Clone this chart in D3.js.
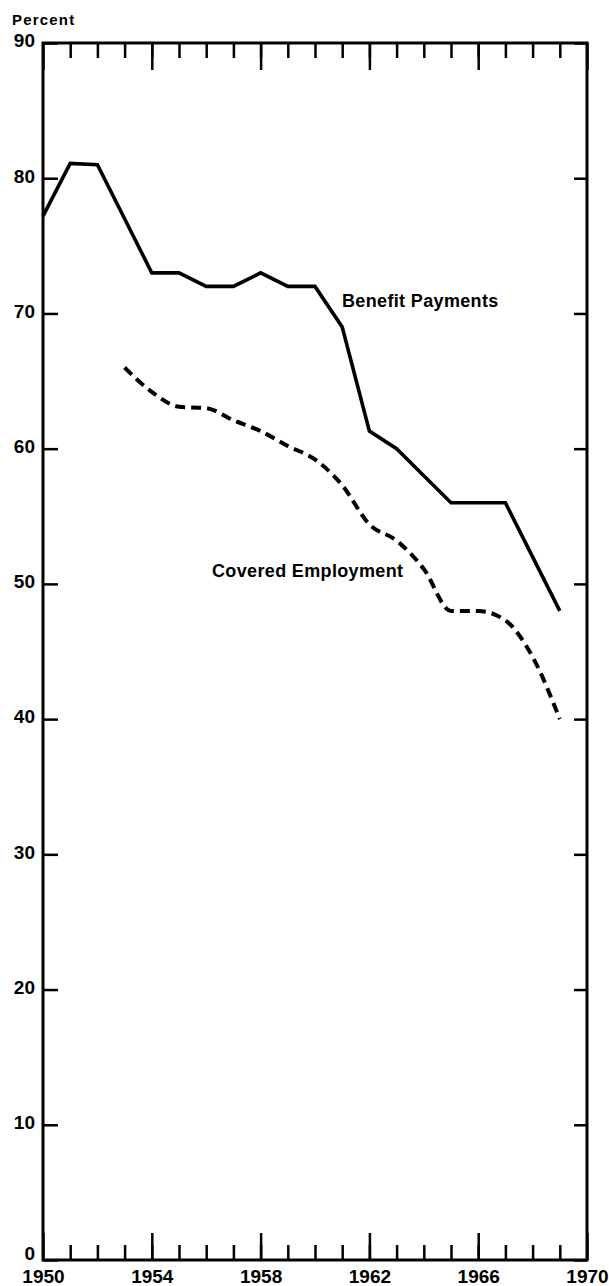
<!DOCTYPE html>
<style>
  body { margin: 0; background: #fff; }
  svg { display: block; font-family: "Liberation Sans", Arial, sans-serif; font-weight: bold; }
  .axis text { font-size: 19px; font-weight: bold; fill: #000; }
  .axis line { stroke: #000; stroke-width: 2.5; }
  .axis path { display: none; }
  .frame { fill: none; stroke: #000; stroke-width: 3; }
  .benefit { fill: none; stroke: #000; stroke-width: 3.6; stroke-linejoin: miter; }
  .covered { fill: none; stroke: #000; stroke-width: 4; stroke-dasharray: 10 6; }
  .label { font-size: 18px; letter-spacing: 0.35px; fill: #000; }
</style>
<body>
</body>
<script src="https://cdn.jsdelivr.net/npm/d3@7"></script>
<script>
  const w = 609, h = 1286;
  const margin = {l: 43, r: 22, t: 43, b: 26};
  const iw = w - margin.l - margin.r, ih = h - margin.t - margin.b;

  // Benefit Payments, 1950-1969
  const benefitYears = [1950, 1951, 1952, 1953, 1954, 1955, 1956, 1957, 1958, 1959,
                        1960, 1961, 1962, 1963, 1964, 1965, 1966, 1967, 1968, 1969];
  const benefitPayments = [77.2, 81.1, 81, 77, 73, 73, 72, 72, 73, 72,
                           72, 69, 61.3, 60, 58, 56, 56, 56, 52, 48];

  // Covered Employment, 1953-1969
  const coveredYears = [1953, 1954, 1955, 1956, 1957, 1958, 1959, 1960, 1961,
                        1962, 1963, 1964, 1965, 1966, 1967, 1968, 1969];
  const coveredEmployment = [66, 64.2, 63.1, 63, 62.1, 61.3, 60.2, 59.2, 57.3,
                             54.4, 53.2, 51.1, 48, 48, 47.3, 44.6, 40];

  const majorYears = [1950, 1954, 1958, 1962, 1966, 1970];
  const minorYears = d3.range(1951, 1970);
  const yTicks = [0, 10, 20, 30, 40, 50, 60, 70, 80, 90];

  const svg = d3.select('body').append('svg')
    .attr('width', w).attr('height', h);
  const g = svg.append('g')
    .attr('transform', `translate(${margin.l}, ${margin.t})`);

  const x = d3.scaleLinear().domain([1950, 1970]).range([0, iw]);
  const y = d3.scaleLinear().domain([0, 90]).range([ih, 0]);

  // bottom axis: minor ticks, then major ticks with labels
  g.append('g').attr('class', 'axis')
    .attr('transform', `translate(0, ${ih})`)
    .call(d3.axisBottom(x).tickValues(minorYears).tickSize(-15).tickFormat(''));
  g.append('g').attr('class', 'axis')
    .attr('transform', `translate(0, ${ih})`)
    .call(d3.axisBottom(x).tickValues(majorYears).tickSize(-27).tickPadding(10).tickFormat(d3.format('d')));

  // top axis
  g.append('g').attr('class', 'axis')
    .call(d3.axisTop(x).tickValues(minorYears).tickSize(-15).tickFormat(''));
  g.append('g').attr('class', 'axis')
    .call(d3.axisTop(x).tickValues(majorYears).tickSize(-27).tickFormat(''));

  // left axis ("0" sits a little above the baseline, clear of 1950)
  g.append('g').attr('class', 'axis')
    .call(d3.axisLeft(y).tickValues(yTicks).tickSize(-15).tickPadding(8))
    .selectAll('text').attr('dy', d => d === 0 ? '-0.05em' : '0.2em');

  // right axis
  g.append('g').attr('class', 'axis')
    .attr('transform', `translate(${iw}, 0)`)
    .call(d3.axisRight(y).tickValues(yTicks).tickSize(-13).tickFormat(''));

  g.append('rect').attr('class', 'frame')
    .attr('x', 0).attr('y', 0).attr('width', iw).attr('height', ih);

  svg.append('text').attr('class', 'label')
    .attr('x', 12).attr('y', 25)
    .style('font-size', '15px').style('letter-spacing', '1.2px')
    .text('Percent');

  const solid = d3.line()
    .x((d, i) => x(benefitYears[i]))
    .y(d => y(d));
  g.append('path').attr('class', 'benefit')
    .datum(benefitPayments)
    .attr('d', solid);

  const dashed = d3.line()
    .x((d, i) => x(coveredYears[i]))
    .y(d => y(d))
    .curve(d3.curveMonotoneX);
  g.append('path').attr('class', 'covered')
    .datum(coveredEmployment)
    .attr('d', dashed);

  g.append('text').attr('class', 'label')
    .attr('x', 342 - margin.l).attr('y', 307 - margin.t)
    .text('Benefit Payments');

  g.append('text').attr('class', 'label')
    .attr('x', 212 - margin.l).attr('y', 577 - margin.t)
    .text('Covered Employment');
</script>
